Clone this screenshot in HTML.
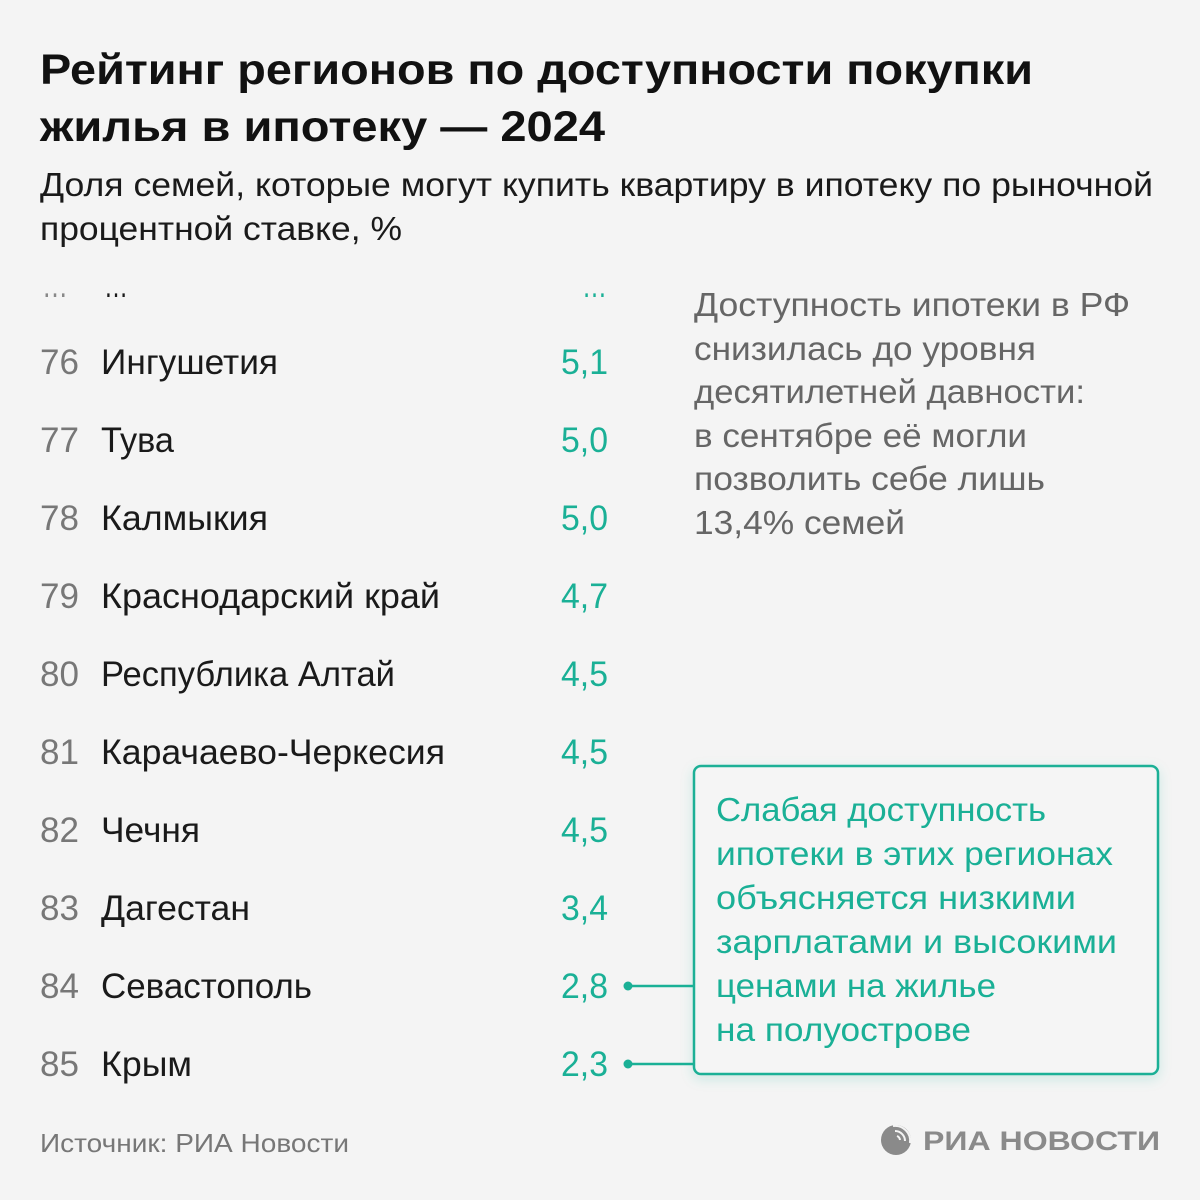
<!DOCTYPE html>
<html><head><meta charset="utf-8"><style>
html,body{margin:0;padding:0;background:#f4f4f4;}
svg{display:block;}
text{font-family:"Liberation Sans",sans-serif;}
</style></head><body>
<svg width="1200" height="1200" viewBox="0 0 1200 1200" xmlns="http://www.w3.org/2000/svg">
<defs>
<filter id="sh" x="-10%" y="-10%" width="120%" height="130%">
<feDropShadow dx="0" dy="4" stdDeviation="6" flood-color="#1ab096" flood-opacity="0.18"/>
</filter>
</defs>
<rect width="1200" height="1200" fill="#f4f4f4"/>
<!-- Title -->
<text x="40" y="84" font-size="43" font-weight="bold" fill="#111" textLength="993" lengthAdjust="spacingAndGlyphs">Рейтинг регионов по доступности покупки</text>
<text x="40" y="141" font-size="43" font-weight="bold" fill="#111" textLength="565" lengthAdjust="spacingAndGlyphs">жилья в ипотеку — 2024</text>
<!-- Subtitle -->
<text x="40" y="196" font-size="33.5" fill="#1a1a1a" textLength="1113" lengthAdjust="spacingAndGlyphs">Доля семей, которые могут купить квартиру в ипотеку по рыночной</text>
<text x="40" y="240" font-size="33.5" fill="#1a1a1a" textLength="362" lengthAdjust="spacingAndGlyphs">процентной ставке, %</text>

<!-- Ellipsis row -->
<text x="42" y="297" font-size="34" fill="#888" textLength="26" lengthAdjust="spacingAndGlyphs">…</text>
<text x="104" y="297" font-size="34" fill="#1a1a1a" textLength="24" lengthAdjust="spacingAndGlyphs">…</text>
<text x="607" y="297" font-size="34" fill="#1ab096" text-anchor="end" textLength="25" lengthAdjust="spacingAndGlyphs">…</text>

<!-- Rows -->
<g font-size="35">
<g fill="#777">
<text x="40" y="374" textLength="39" lengthAdjust="spacingAndGlyphs">76</text>
<text x="40" y="452" textLength="39" lengthAdjust="spacingAndGlyphs">77</text>
<text x="40" y="530" textLength="39" lengthAdjust="spacingAndGlyphs">78</text>
<text x="40" y="608" textLength="39" lengthAdjust="spacingAndGlyphs">79</text>
<text x="40" y="686" textLength="39" lengthAdjust="spacingAndGlyphs">80</text>
<text x="40" y="764" textLength="39" lengthAdjust="spacingAndGlyphs">81</text>
<text x="40" y="842" textLength="39" lengthAdjust="spacingAndGlyphs">82</text>
<text x="40" y="920" textLength="39" lengthAdjust="spacingAndGlyphs">83</text>
<text x="40" y="998" textLength="39" lengthAdjust="spacingAndGlyphs">84</text>
<text x="40" y="1076" textLength="39" lengthAdjust="spacingAndGlyphs">85</text>
</g>
<g fill="#1a1a1a">
<text x="101" y="374" textLength="177" lengthAdjust="spacingAndGlyphs">Ингушетия</text>
<text x="101" y="452" textLength="73" lengthAdjust="spacingAndGlyphs">Тува</text>
<text x="101" y="530" textLength="167" lengthAdjust="spacingAndGlyphs">Калмыкия</text>
<text x="101" y="608" textLength="339" lengthAdjust="spacingAndGlyphs">Краснодарский край</text>
<text x="101" y="686" textLength="294" lengthAdjust="spacingAndGlyphs">Республика Алтай</text>
<text x="101" y="764" textLength="344" lengthAdjust="spacingAndGlyphs">Карачаево-Черкесия</text>
<text x="101" y="842" textLength="99" lengthAdjust="spacingAndGlyphs">Чечня</text>
<text x="101" y="920" textLength="149" lengthAdjust="spacingAndGlyphs">Дагестан</text>
<text x="101" y="998" textLength="211" lengthAdjust="spacingAndGlyphs">Севастополь</text>
<text x="101" y="1076" textLength="91" lengthAdjust="spacingAndGlyphs">Крым</text>
</g>
<g fill="#1ab096" text-anchor="end">
<text x="608" y="374" textLength="47" lengthAdjust="spacingAndGlyphs">5,1</text>
<text x="608" y="452" textLength="47" lengthAdjust="spacingAndGlyphs">5,0</text>
<text x="608" y="530" textLength="47" lengthAdjust="spacingAndGlyphs">5,0</text>
<text x="608" y="608" textLength="47" lengthAdjust="spacingAndGlyphs">4,7</text>
<text x="608" y="686" textLength="47" lengthAdjust="spacingAndGlyphs">4,5</text>
<text x="608" y="764" textLength="47" lengthAdjust="spacingAndGlyphs">4,5</text>
<text x="608" y="842" textLength="47" lengthAdjust="spacingAndGlyphs">4,5</text>
<text x="608" y="920" textLength="47" lengthAdjust="spacingAndGlyphs">3,4</text>
<text x="608" y="998" textLength="47" lengthAdjust="spacingAndGlyphs">2,8</text>
<text x="608" y="1076" textLength="47" lengthAdjust="spacingAndGlyphs">2,3</text>
</g>
</g>

<!-- Right note -->
<g font-size="33.5" fill="#666">
<text x="694" y="316" textLength="436" lengthAdjust="spacingAndGlyphs">Доступность ипотеки в РФ</text>
<text x="694" y="360" textLength="342" lengthAdjust="spacingAndGlyphs">снизилась до уровня</text>
<text x="694" y="403" textLength="391" lengthAdjust="spacingAndGlyphs">десятилетней давности:</text>
<text x="694" y="447" textLength="333" lengthAdjust="spacingAndGlyphs">в сентябре её могли</text>
<text x="694" y="490" textLength="351" lengthAdjust="spacingAndGlyphs">позволить себе лишь</text>
<text x="694" y="534" textLength="211" lengthAdjust="spacingAndGlyphs">13,4% семей</text>
</g>

<!-- Connectors -->
<g stroke="#1ab096" stroke-width="2.5" fill="#1ab096">
<line x1="628" y1="986" x2="694" y2="986"/>
<line x1="628" y1="1064" x2="694" y2="1064"/>
<circle cx="628" cy="986" r="4.5" stroke="none"/>
<circle cx="628" cy="1064" r="4.5" stroke="none"/>
</g>

<!-- Box -->
<rect x="694" y="766" width="464" height="308" rx="7" ry="7" fill="#f5f5f5" stroke="#1ab096" stroke-width="2.5" filter="url(#sh)"/>
<g font-size="33.5" fill="#1ab096">
<text x="716" y="821" textLength="330" lengthAdjust="spacingAndGlyphs">Слабая доступность</text>
<text x="716" y="865" textLength="397" lengthAdjust="spacingAndGlyphs">ипотеки в этих регионах</text>
<text x="716" y="909" textLength="360" lengthAdjust="spacingAndGlyphs">объясняется низкими</text>
<text x="716" y="953" textLength="401" lengthAdjust="spacingAndGlyphs">зарплатами и высокими</text>
<text x="716" y="997" textLength="280" lengthAdjust="spacingAndGlyphs">ценами на жилье</text>
<text x="716" y="1041" textLength="255" lengthAdjust="spacingAndGlyphs">на полуострове</text>
</g>

<!-- Footer -->
<text x="40" y="1152" font-size="26" fill="#777" textLength="309" lengthAdjust="spacingAndGlyphs">Источник: РИА Новости</text>

<!-- Logo -->
<g>
<circle cx="896" cy="1140" r="15" fill="#8a8a8a"/>
<path d="M893,1126 A15,15 0 0 1 910,1143" stroke="#f4f4f4" stroke-width="2" fill="none"/>
<path d="M895,1131 A10,10 0 0 1 905,1141" stroke="#f4f4f4" stroke-width="2" fill="none"/>
<path d="M897,1136 A5,5 0 0 1 900,1140" stroke="#f4f4f4" stroke-width="2" fill="none"/>
</g>
<text x="923" y="1150" font-size="27" font-weight="bold" fill="#8a8a8a" textLength="237" lengthAdjust="spacingAndGlyphs">РИА НОВОСТИ</text>
</svg>
</body></html>
